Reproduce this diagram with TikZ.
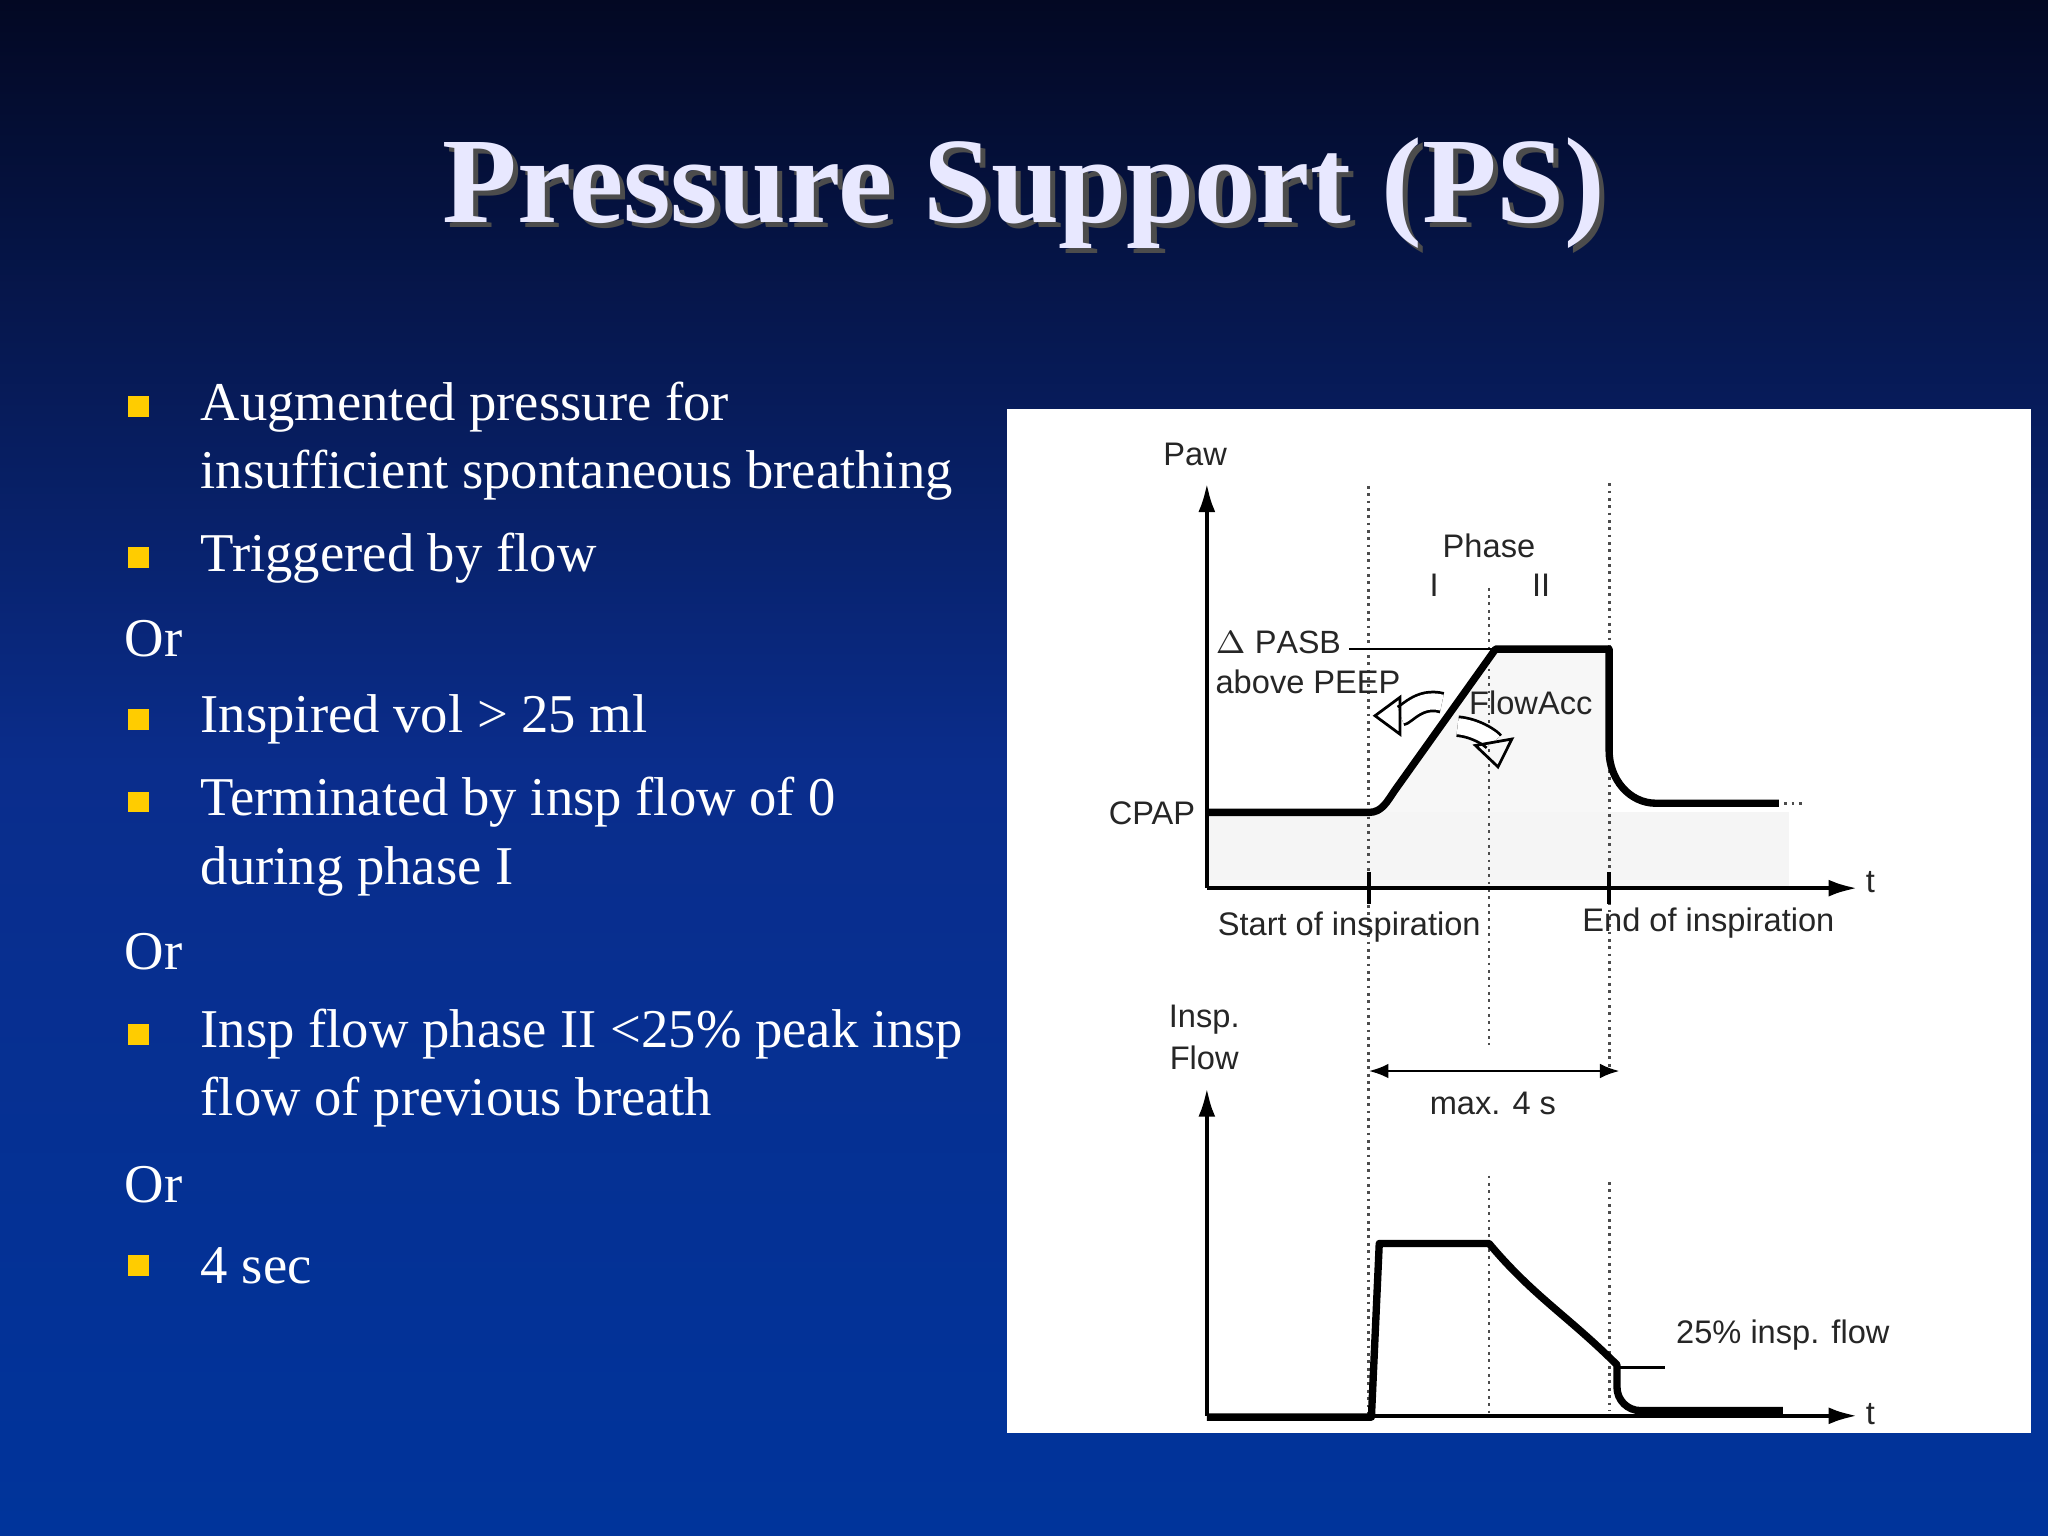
\documentclass[tikz,border=0pt]{standalone}
\usepackage{fontspec}
\setmainfont{Liberation Serif}
\newfontfamily\dsans{Liberation Sans}
\usetikzlibrary{arrows.meta}
\definecolor{bgtop}{RGB}{3,8,35}
\definecolor{bgmid}{RGB}{10,45,140}
\definecolor{bgbot}{RGB}{0,52,155}
\definecolor{titlec}{RGB}{232,232,255}
\definecolor{bul}{RGB}{255,204,0}
\tikzset{
 body/.style={anchor=west,text=white,font=\fontsize{11.9}{14}\selectfont,inner sep=0},
 bsq/.style={fill=bul,minimum size=0.16cm,inner sep=0},
 lab/.style={font=\dsans\fontsize{7.1}{8}\selectfont,text=black!85,inner sep=0},
 curve/.style={line width=1.6pt,line join=round},
 dots/.style={densely dotted,line width=0.6pt,black!70},
 ax/.style={line width=0.9pt,-{Latex[length=0.22cm,width=0.13cm]}},
 hollow/.style={double=white,double distance=3.5pt,line width=0.6pt,shorten >=-2pt,-{Triangle[open,length=0.22cm,width=0.32cm]}}
}
\begin{document}
\begin{tikzpicture}[x=0.01cm,y=-0.01cm]
\shade[top color=bgtop,bottom color=bgbot,middle color=bgmid] (0,0) rectangle (1568,1176);
\useasboundingbox (0,0) rectangle (1568,1176);
\node[text=black!70,font=\bfseries\fontsize{26.6}{30}\selectfont] at (788,152) {Pressure Support (PS)};
\node (title) [text=titlec,font=\bfseries\fontsize{26.6}{30}\selectfont] at (784,148) {Pressure Support (PS)};
% bullets
\foreach \y in {311,427,551,614,792,969} \node[bsq] at (106,\y) {};
\node[body] (t1) at (153,312) {Augmented pressure for};
\node[body] at (153,364) {insufficient spontaneous breathing};
\node[body] at (153,427) {Triggered by flow};
\node[body] at (95,489) {Or};
\node[body] at (153,551) {Inspired vol > 25 ml};
\node[body] at (153,614) {Terminated by insp flow of 0};
\node[body] at (153,667) {during phase I};
\node[body] at (95,729) {Or};
\node[body] at (153,792) {Insp flow phase II <25\% peak insp};
\node[body] at (153,844) {flow of previous breath};
\node[body] at (95,907) {Or};
\node[body] at (153,969) {4 sec};
% panel
\fill[white] (771,313) rectangle (1555,1097);
\fill[black!4] (924,622) rectangle (1370,680);
\fill[black!3] (1060,615) -- (1145,497) -- (1232,497) -- (1232,622) -- (1060,622) -- cycle;
% dotted lines
\draw[dots] (1048,372) -- (1048,1085);
\draw[dots] (1140,450) -- (1140,800) (1140,900) -- (1140,1085);
\draw[dots] (1232,370) -- (1232,820) (1232,905) -- (1232,1080);
% top axes
\coordinate (o1) at (924,680);
\coordinate (y1) at (924,370);
\coordinate (x1) at (1422,680);
\draw[ax] (o1) -- (y1);
\draw[ax] (o1) -- (x1);
\draw[line width=1pt] (1048,668) -- (1048,692) (1232,668) -- (1232,692);
\node[lab] at (915,348) {Paw};
\node[lab] at (1432,675) {t};
\node[lab] at (882,623) {CPAP};
\node[lab] at (1140,418) {Phase};
\node[lab] at (1098,448) {I};
\node[lab] at (1180,448) {II};
\node[lab,anchor=west] at (930,492) {$\Delta$ P\scriptsize ASB};
\node[lab,anchor=west] at (930,522) {above PEEP};
\node[lab] at (1172,538) {FlowAcc};
\node[lab] at (1033,710) {Start of inspiration};
\node[lab] at (1308,707) {End of inspiration};
\draw[line width=0.5pt] (1033,497) -- (1145,497);
\draw[curve] (924,622) -- (1048,622) to[out=0,in=235] (1068,605) -- (1145,497) -- (1232,497) -- (1232,575) to[out=270,in=180] (1268,615) -- (1362,615);
\draw[dots] (1366,615) -- (1382,615);
\draw[hollow] (1104,538) to[out=165,in=0] (1058,548);
\draw[hollow] (1116,556) to[out=-5,in=100] (1146,582);
% bottom axes
\coordinate (o2) at (924,1084);
\coordinate (y2) at (924,833);
\coordinate (x2) at (1422,1084);
\draw[ax] (o2) -- (y2);
\draw[ax] (o2) -- (x2);
\node[lab] at (922,781) {Insp.};
\node[lab] at (922,810) {Flow};
\node[lab] at (1432,1083) {t};
\coordinate (m1) at (1048,820);
\coordinate (m2) at (1240,820);
\draw[line width=0.6pt,{Latex[length=0.15cm]}-{Latex[length=0.15cm]}] (m1) -- (m2);
\node[lab] at (1143,845) {max. 4 s};
\draw[curve] (924,1085) -- (1050,1085) -- (1056,952) -- (1140,952) to[out=-50,in=135] (1238,1045) -- (1238,1062) to[out=270,in=180] (1256,1080) -- (1365,1080);
\draw[line width=0.5pt] (1238,1047) -- (1275,1047);
\node[lab] at (1365,1022) {25\% insp. flow};
\end{tikzpicture}
\end{document}
